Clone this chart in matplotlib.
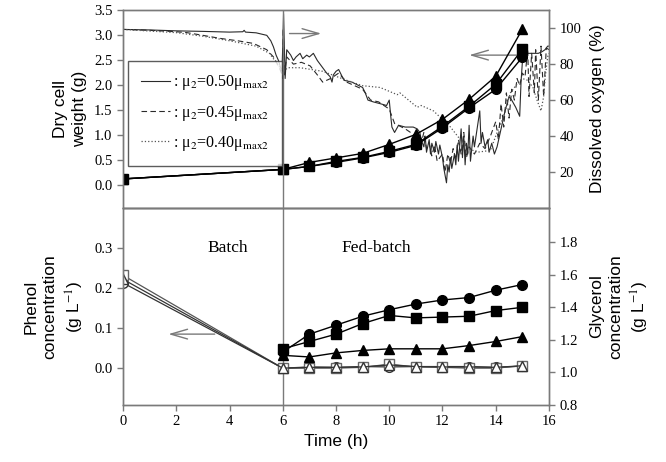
import matplotlib
matplotlib.use("Agg")
import matplotlib.pyplot as plt

# ---- data ----
t_dcw = [0, 6, 7, 8, 9, 10, 11, 12, 13, 14, 15]
dcw_circle = [0.13, 0.32, 0.38, 0.46, 0.55, 0.66, 0.80, 1.15, 1.55, 1.92, 2.56]
dcw_square = [0.13, 0.32, 0.38, 0.48, 0.56, 0.68, 0.82, 1.18, 1.58, 2.02, 2.72]
dcw_tri = [0.13, 0.32, 0.46, 0.55, 0.64, 0.82, 1.02, 1.32, 1.72, 2.18, 3.12]

# dissolved oxygen traces (time h, %)
do_solid_t = [0, 1, 2, 3, 4, 4.5, 4.55, 4.6, 5, 5.4, 5.55, 5.65, 5.75, 5.84, 5.92, 5.97,
              6.0, 6.03, 6.06, 6.09, 6.12, 6.15, 6.3, 6.4, 6.5, 6.65, 6.75, 6.9, 7.0, 7.15,
              7.3, 7.5, 7.65, 7.78, 7.85, 7.9, 8.0, 8.1, 8.2, 8.3, 8.6, 9.0, 9.1, 9.2, 9.4,
              9.66, 9.9, 10.0, 10.05, 10.1, 10.2, 10.35, 10.6, 10.9, 11.05, 11.15, 11.2, 11.3,
              11.35, 11.4, 11.5, 11.55, 11.6, 11.7, 11.75, 11.85, 11.9, 12.0, 12.05, 12.15,
              12.2, 12.25, 12.3, 12.35, 12.45, 12.5, 12.55, 12.6, 12.7, 12.75, 12.8, 12.85,
              12.9, 12.95, 13.0, 13.05, 13.15, 13.2, 13.3, 13.4, 13.45, 13.5, 13.6, 13.7,
              13.75, 13.85, 13.95, 14.05, 14.2, 14.35, 14.5, 14.6, 14.75, 14.9, 14.95, 15.0,
              15.05, 15.3, 15.5, 15.6, 15.75, 15.85, 15.95, 16.0]
do_solid = [99.3, 99, 98.5, 98.2, 97.8, 98, 98.8, 97.8, 97.4, 96, 93, 89.6, 85, 82, 78, 76,
            90, 108, 90, 72, 80, 88, 85, 82, 84, 86, 83, 85, 84, 86,
            82, 78, 75, 73, 70, 74, 76, 77, 74, 71, 70, 67, 64, 60, 59,
            58, 57, 60, 52, 45, 42, 46, 45, 45, 44, 42, 38, 34,
            40, 31, 38, 30, 36, 31, 37, 30, 35, 28, 22, 14,
            24, 20, 28, 22, 30, 24, 35, 26, 44, 28, 40, 24,
            36, 30, 46, 26, 40, 34, 44, 54, 36, 42, 34, 38,
            31, 36, 30, 34, 44, 54, 62, 60, 56, 51, 70, 81,
            86, 86, 86, 86, 87, 88, 90, 90]

do_dash_t = [0, 1, 2, 2.4, 3, 3.65, 4.3, 4.9, 5.4, 5.65, 5.8, 5.9, 5.95, 6.0, 6.02, 6.06,
             6.15, 6.4, 6.7, 7.03, 7.3, 7.5, 7.8, 8.1, 8.4, 9.0, 9.3, 9.6, 10.0, 10.2, 10.6,
             11.0, 11.2, 11.3, 11.4, 11.5, 11.6, 11.7, 11.8, 12.0, 12.1, 12.2, 12.3, 12.4,
             12.5, 12.6, 12.7, 12.8, 12.9, 13.0, 13.2, 13.4, 13.6, 13.8, 14.0, 14.1, 14.2,
             14.3, 14.4, 14.5, 14.6, 14.7, 14.8, 14.9, 15.0, 15.1, 15.2, 15.25, 15.35, 15.45,
             15.5, 15.6, 15.7, 15.8, 15.9, 16.0]
do_dash = [99.3, 98.8, 98, 97.5, 96, 94.3, 93, 91.5, 88, 84, 80, 77, 75, 72, 100, 74,
           84, 80, 81, 79, 74, 70, 72, 75, 70, 66, 60, 59, 55, 47, 44,
           40, 36, 42, 33, 36, 29, 35, 26, 30, 20, 30, 25, 33,
           27, 38, 30, 42, 28, 34, 30, 36, 33, 40, 48, 38, 58,
           45, 64, 50, 66, 60, 72, 68, 75, 73, 88, 62, 86, 64,
           88, 60, 90, 62, 89, 88]

do_dot_t = [0, 2, 3, 4, 5, 5.5, 5.8, 6.0, 6.2, 6.65, 7.5, 8.4, 9.0, 9.66, 10.3, 10.4, 11.05,
            11.2, 11.66, 12.3, 12.67, 13.0, 13.3, 13.8, 14.05, 14.3, 14.55, 14.8, 15.0, 15.2,
            15.4, 15.55, 15.7, 15.8, 15.86, 15.95, 16.0]
do_dot = [99.3, 97.5, 95.5, 93, 90, 86, 80, 76, 78, 78, 76, 71, 68, 67, 63, 64, 56,
          57, 54, 45, 38, 33, 31, 32, 42, 51, 64, 69, 72, 71,
          67, 60, 54, 62, 73, 84, 86]

t_gly = [6, 7, 8, 9, 10, 11, 12, 13, 14, 15]
gly_circle = [1.125, 1.235, 1.29, 1.345, 1.385, 1.42, 1.445, 1.46, 1.505, 1.54]
gly_square = [1.145, 1.19, 1.235, 1.30, 1.35, 1.335, 1.34, 1.345, 1.38, 1.40]
gly_tri = [1.105, 1.095, 1.12, 1.135, 1.145, 1.145, 1.145, 1.165, 1.19, 1.22]

t_phe = [0, 6, 7, 8, 9, 10, 11, 12, 13, 14, 15]
phe_circle = [0.213, 0.0, 0.003, 0.002, 0.004, 0.003, 0.004, 0.004, 0.004, 0.002, 0.005]
phe_square = [0.232, 0.0, 0.0, 0.0, 0.002, 0.010, 0.003, 0.002, 0.0, 0.0, 0.006]
phe_tri = [0.222, 0.0, 0.002, 0.002, 0.003, 0.008, 0.004, 0.003, 0.003, 0.002, 0.006]

legend_labels = [r': μ$_2$=0.50μ$_{\mathrm{max2}}$',
                 r': μ$_2$=0.45μ$_{\mathrm{max2}}$',
                 r': μ$_2$=0.40μ$_{\mathrm{max2}}$']

plt.rcParams['mathtext.fontset'] = 'stix'
serif = 'Liberation Serif'
sans = 'Liberation Sans'
gray = '#7a7a7a'

fig = plt.figure(figsize=(6.66, 4.62), dpi=100)
L, R = 0.1847, 0.8243
ax1 = fig.add_axes([L, 0.5498, R - L, 0.978 - 0.5498])
ax2 = fig.add_axes([L, 0.1234, R - L, 0.5498 - 0.1234])
ax1r = ax1.twinx()
ax2r = ax2.twinx()

for a in (ax1, ax2, ax1r, ax2r):
    for s in a.spines.values():
        s.set_color(gray)
        s.set_linewidth(1.0)
    a.tick_params(colors='black', labelsize=10.5, length=4, width=1.0, direction='out')
    a.tick_params(axis='both', color=gray)

# ---- top panel ----
ax1.set_xlim(0, 16)
ax1.set_ylim(-0.45, 3.5)
ax1.set_yticks([0.0, 0.5, 1.0, 1.5, 2.0, 2.5, 3.0, 3.5])
ax1.set_yticklabels(['%.1f' % v for v in ax1.get_yticks()], fontfamily=serif)
ax1.set_xticks([])
ax1r.set_ylim(0, 110)
ax1r.set_yticks([20, 40, 60, 80, 100])
ax1r.set_yticklabels(['20', '40', '60', '80', '100'], fontfamily=serif)

dcol = '#2a2a2a'
h1, = ax1r.plot(do_solid_t, do_solid, '-', color=dcol, lw=0.8)
h2, = ax1r.plot(do_dash_t, do_dash, '--', color=dcol, lw=0.8, dashes=(5, 3))
h3, = ax1r.plot(do_dot_t, do_dot, ':', color='#555555', lw=0.9)

ax1.set_zorder(ax1r.get_zorder() + 1)
ax1.patch.set_visible(False)
ax1.plot(t_dcw, dcw_circle, 'o-', color='black', ms=7, lw=1.0)
ax1.plot(t_dcw, dcw_square, 's-', color='black', ms=7, lw=1.0)
ax1.plot(t_dcw, dcw_tri, '^-', color='black', ms=7.5, lw=1.0)
ax1.axvline(6, color=gray, lw=1.0)

leg = ax1.legend([h1, h2, h3], legend_labels, loc='upper left',
                 bbox_to_anchor=(0.012, 0.745), borderaxespad=0, frameon=True,
                 fancybox=False, handlelength=1.8, handletextpad=0.2, labelspacing=0.7,
                 borderpad=0.8, prop={'family': serif, 'size': 11.5})
leg.get_frame().set_edgecolor('#333333')
leg.get_frame().set_linewidth(1.0)

ax1r.annotate('', xy=(7.55, 97), xytext=(6.15, 97),
              arrowprops=dict(arrowstyle='->,head_length=1.2,head_width=0.35',
                              color=gray, lw=1.0))
ax1r.annotate('', xy=(12.9, 85), xytext=(15.0, 85),
              arrowprops=dict(arrowstyle='->,head_length=1.2,head_width=0.35',
                              color=gray, lw=1.0))

ax1.set_ylabel('Dry cell\nweight (g)', fontfamily=sans, fontsize=12.5, labelpad=5,
               linespacing=1.35)
ax1r.set_ylabel('Dissolved oxygen (%)', fontfamily=sans, fontsize=12.5, labelpad=6)

# ---- bottom panel ----
ax2.set_xlim(0, 16)
ax2.set_ylim(-0.092, 0.4)
ax2.set_yticks([0.0, 0.1, 0.2, 0.3])
ax2.set_yticklabels(['0.0', '0.1', '0.2', '0.3'], fontfamily=serif)
ax2.set_xticks(range(0, 17, 2))
ax2.set_xticklabels([str(v) for v in range(0, 17, 2)], fontfamily=serif)
ax2r.set_ylim(0.8, 2.01)
ax2r.set_yticks([0.8, 1.0, 1.2, 1.4, 1.6, 1.8])
ax2r.set_yticklabels(['0.8', '1.0', '1.2', '1.4', '1.6', '1.8'], fontfamily=serif)

ax2.axvline(6, color=gray, lw=1.0)
ax2.plot(t_phe, phe_circle, 'o-', color='#333333', mfc='white', mec='#333333', ms=7, lw=0.9)
ax2.plot(t_phe, phe_square, 's-', color='#555555', mfc='white', mec='#666666', ms=7, lw=0.9)
ax2.plot(t_phe, phe_tri, '^-', color='#333333', mfc='white', mec='#333333', ms=7.5, lw=0.9)

ax2r.plot(t_gly, gly_circle, 'o-', color='black', ms=7, lw=1.0)
ax2r.plot(t_gly, gly_square, 's-', color='black', ms=7, lw=1.0)
ax2r.plot(t_gly, gly_tri, '^-', color='black', ms=7.5, lw=1.0)

ax2.annotate('', xy=(1.6, 0.085), xytext=(3.55, 0.085),
             arrowprops=dict(arrowstyle='->,head_length=1.2,head_width=0.35',
                             color=gray, lw=1.0))

ax2.text(3.95, 0.3, 'Batch', fontfamily=serif, fontsize=12.5, ha='center', va='center')
ax2.text(9.5, 0.3, 'Fed-batch', fontfamily=serif, fontsize=12.5, ha='center', va='center')

ax2.set_ylabel('Phenol\nconcentration\n(g L$^{-1}$)', fontfamily=sans, fontsize=12.5,
               labelpad=6, linespacing=1.35)
ax2r.set_ylabel('Glycerol\nconcentration\n(g L$^{-1}$)', fontfamily=sans, fontsize=12.5,
                labelpad=8, linespacing=1.35)
ax2.set_xlabel('Time (h)', fontfamily=sans, fontsize=12.5, labelpad=4)

fig.savefig('out.png', dpi=100)
